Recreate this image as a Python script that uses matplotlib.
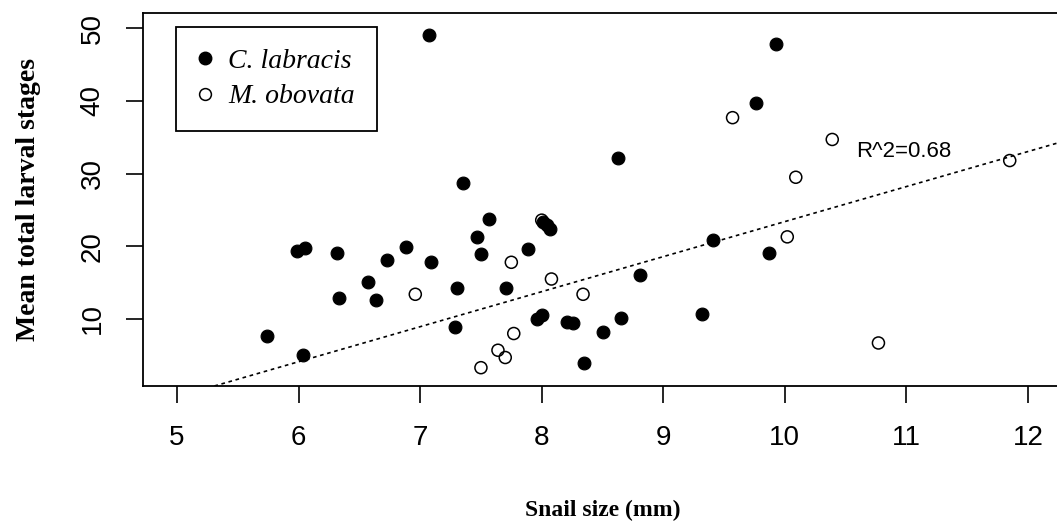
import matplotlib
matplotlib.use("Agg")
import matplotlib.pyplot as plt
from matplotlib.lines import Line2D

# Data
labracis_x = [7.07, 5.74, 6.04, 5.99, 6.05, 6.32, 6.33, 6.57, 6.64, 6.73, 6.88, 7.09,
              7.29, 7.30, 7.35, 7.57, 7.47, 7.50, 7.89, 8.01, 8.04, 8.07, 7.71, 7.96,
              8.00, 8.21, 8.26, 8.35, 8.50, 8.65, 8.81, 8.63, 9.32, 9.41, 9.76, 9.93, 9.87]
labracis_y = [49.1, 7.7, 5.0, 19.4, 19.8, 19.1, 12.9, 15.1, 12.6, 18.1, 19.9, 17.8,
              8.9, 14.2, 28.7, 23.8, 21.3, 19.0, 19.6, 23.4, 22.9, 22.4, 14.2, 10.0,
              10.5, 9.6, 9.4, 4.0, 8.2, 10.2, 16.1, 32.2, 10.7, 20.9, 39.7, 47.9, 19.1]

obovata_x = [6.96, 7.75, 8.08, 8.34, 7.77, 7.64, 7.70, 7.50, 8.00, 9.57, 10.39, 10.09,
             10.02, 10.77, 11.85]
obovata_y = [13.4, 17.8, 15.5, 13.4, 8.0, 5.7, 4.7, 3.3, 23.6, 37.7, 34.7, 29.5,
             21.3, 6.7, 31.8]

trend_intercept = -24.8
trend_slope = 4.82
r2_label = "R^2=0.68"

x_ticks = [5, 6, 7, 8, 9, 10, 11, 12]
y_ticks = [10, 20, 30, 40, 50]

fig = plt.figure(figsize=(10.57, 5.25), dpi=100)
ax = fig.add_axes([143 / 1057, (525 - 386) / 525, 919 / 1057, 373 / 525])

ax.scatter(labracis_x, labracis_y, s=85, c="black", edgecolors="black",
           linewidths=0.8, zorder=3)
ax.scatter(obovata_x, obovata_y, s=75, facecolors="none", edgecolors="black",
           linewidths=1.1, zorder=4)

ax.axline((0, trend_intercept), slope=trend_slope, color="black",
          linestyle=(0, (2.2, 2.2)), linewidth=1.2, zorder=2)

ax.text(10.98, 33.0, r2_label, ha="center", va="center", fontsize=16,
        family="Liberation Sans")

ax.set_xlim(4.72, 12.28)
ax.set_ylim(0.78, 52.1)
ax.set_xticks(x_ticks)
ax.set_yticks(y_ticks)
ax.set_xticklabels([str(t) for t in x_ticks], family="Liberation Sans", fontsize=20)
ax.set_yticklabels([str(t) for t in y_ticks], family="Liberation Sans", fontsize=20,
                   rotation=90, va="center")
ax.tick_params(axis="both", direction="out", length=12, width=1.2, color="black")
ax.tick_params(axis="x", pad=16)
ax.tick_params(axis="y", pad=15)

for sp in ax.spines.values():
    sp.set_linewidth(1.3)

ax.set_xlabel("Snail size (mm)", family="Liberation Serif", fontweight="bold",
              fontsize=17, labelpad=35)
ax.set_ylabel("Mean total larval stages", family="Liberation Serif",
              fontweight="bold", fontsize=20, labelpad=28)

handles = [
    Line2D([], [], marker="o", linestyle="none", markersize=9, markerfacecolor="black",
           markeredgecolor="black"),
    Line2D([], [], marker="o", linestyle="none", markersize=8.5, markerfacecolor="none",
           markeredgecolor="black", markeredgewidth=1.1),
]
leg = ax.legend(handles, ["C. labracis", "M. obovata"], loc="upper left",
                bbox_to_anchor=((176 - 143) / 919, (386 - 27) / 373),
                borderaxespad=0, fancybox=False, edgecolor="black", framealpha=1,
                prop={"family": "Liberation Serif", "style": "italic", "size": 20},
                handlelength=0.5, handletextpad=0.6, borderpad=0.78, labelspacing=0.35)
leg.get_frame().set_linewidth(1.3)

fig.savefig("out.png", dpi=100)
